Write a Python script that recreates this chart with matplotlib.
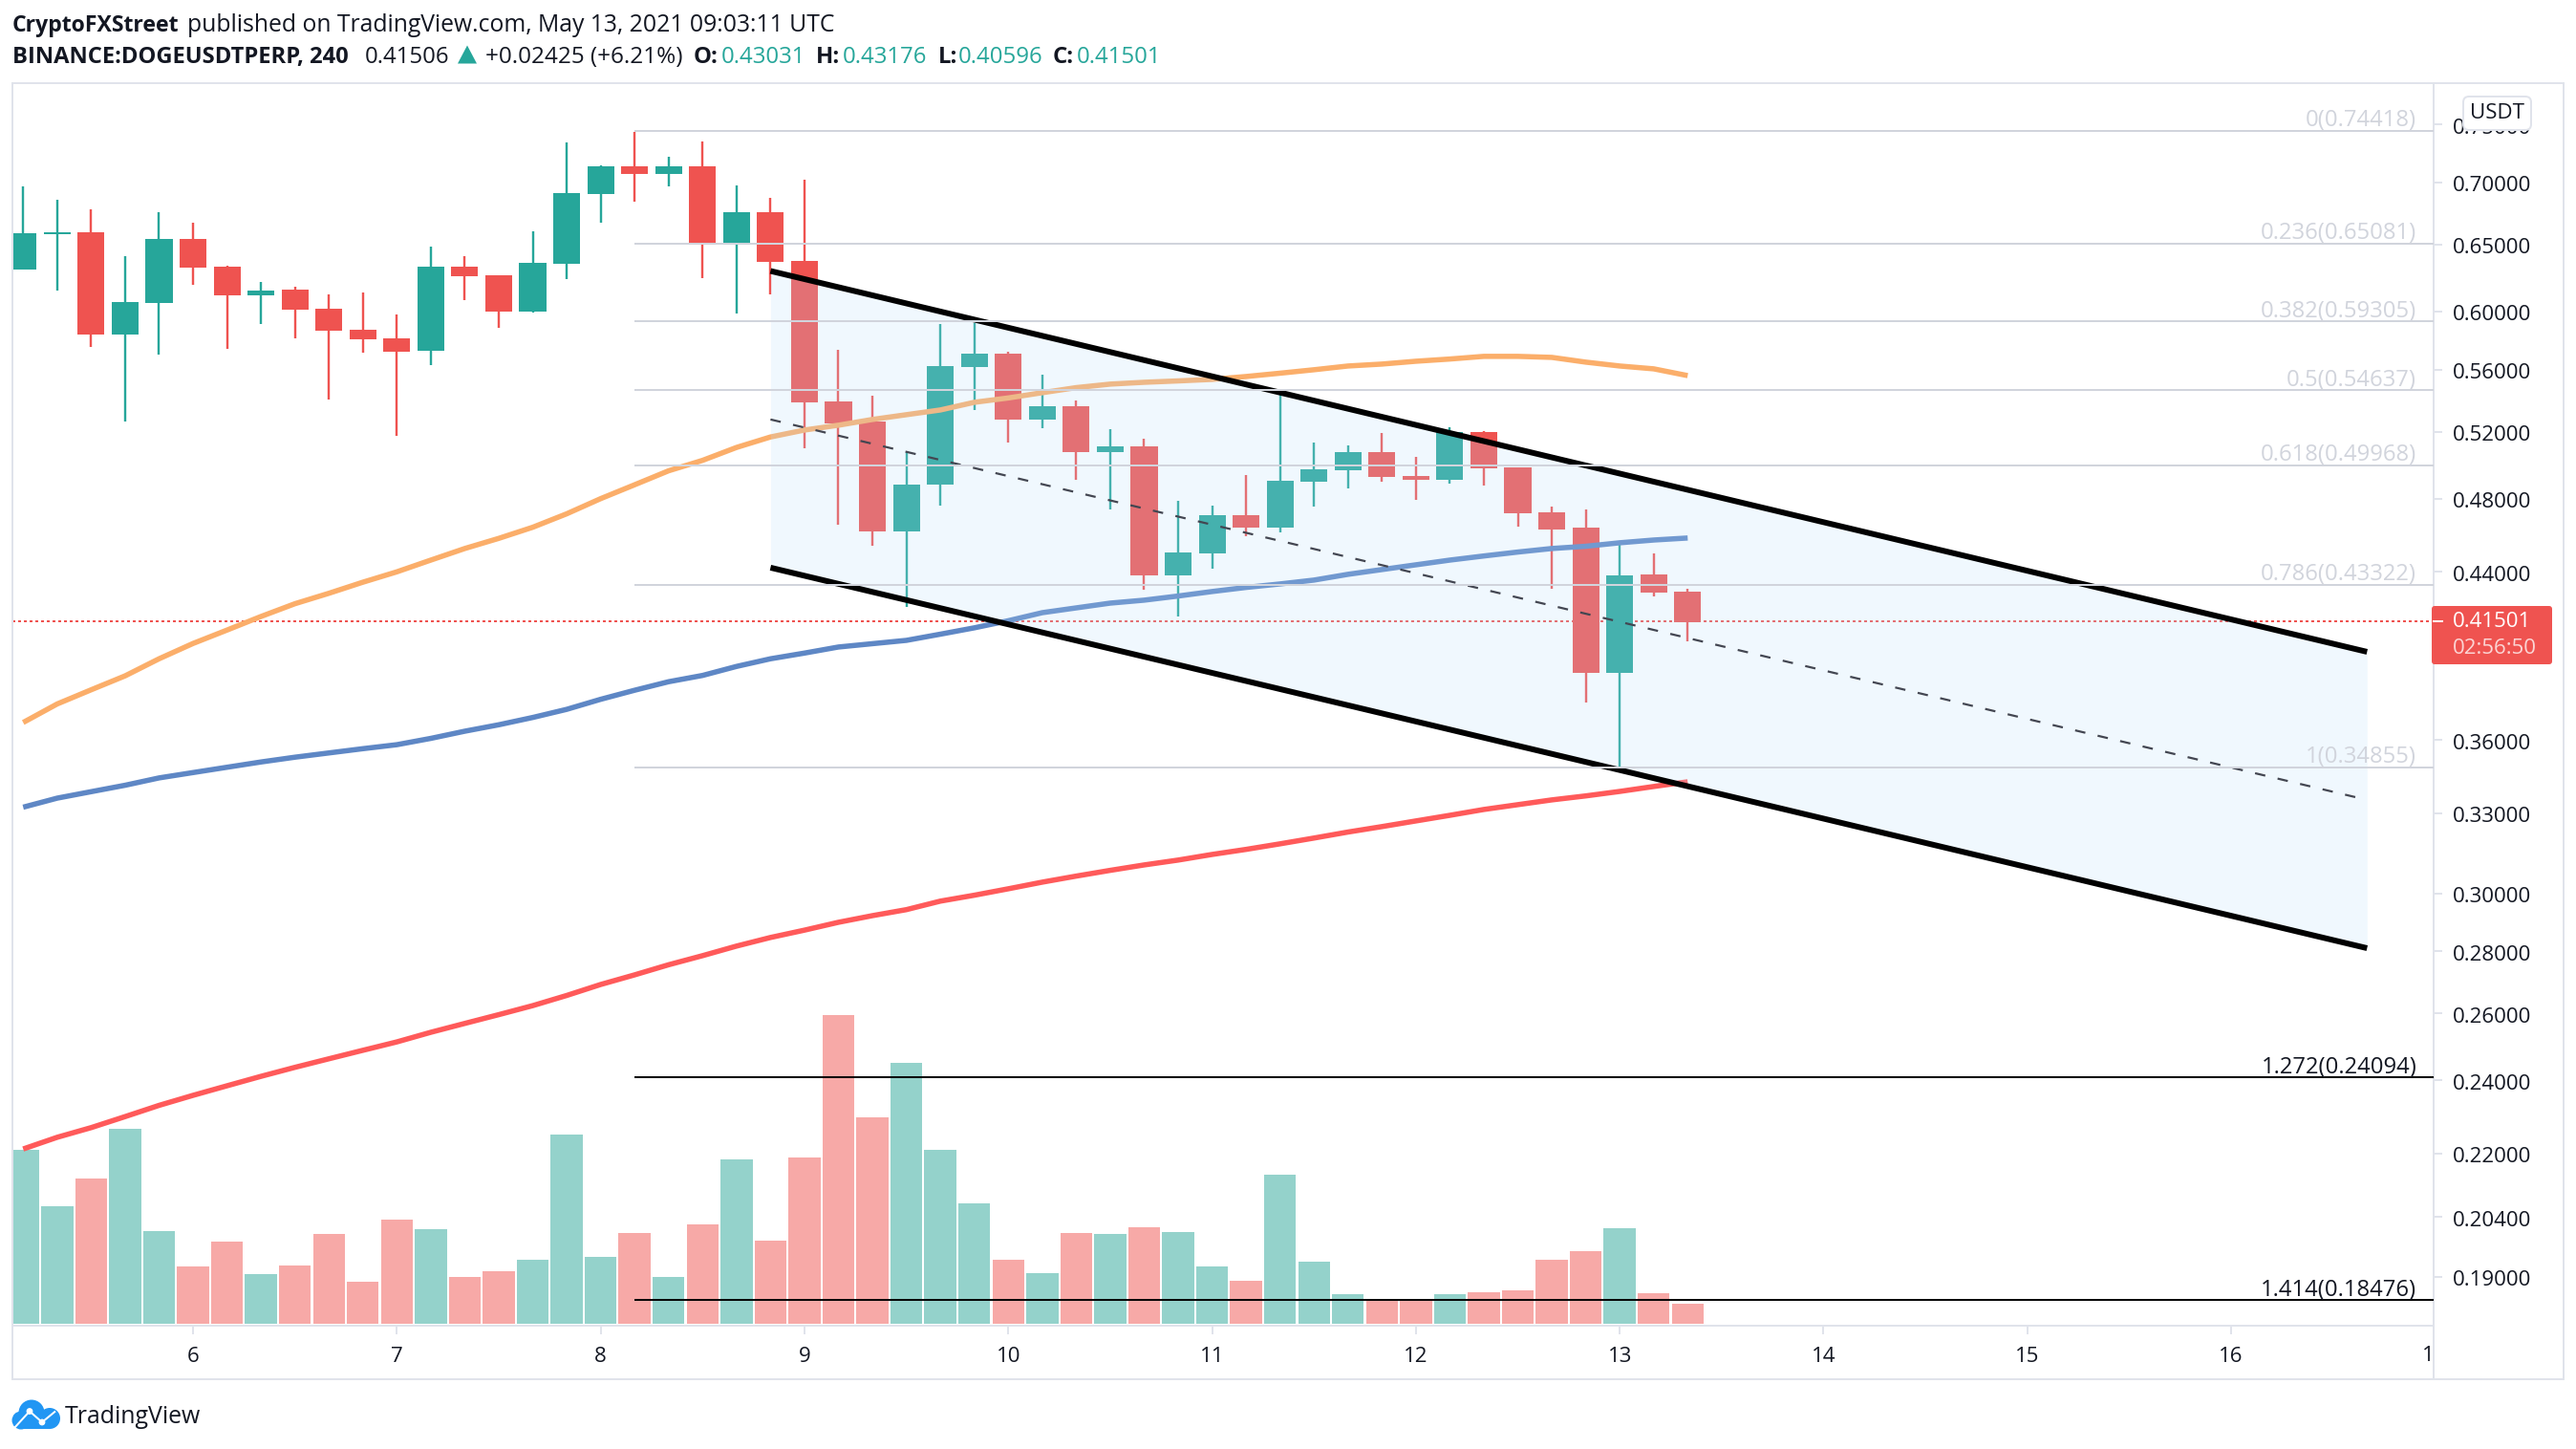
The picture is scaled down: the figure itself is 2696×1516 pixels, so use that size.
import numpy as np
import matplotlib
matplotlib.use('Agg')
import matplotlib.pyplot as plt
from matplotlib.patches import Rectangle, FancyBboxPatch, Circle, Polygon
from matplotlib.ticker import NullFormatter
from matplotlib.transforms import ScaledTranslation

plt.rcParams['font.family'] = ['Open Sans', 'DejaVu Sans']

# ---------- data (4h candles, bar index 0..49) ----------
direction = list("GGRGGRRGRRRRGRRGGGRGRGRRRRGGGRGRGRGGRGGGRRGRRRRGRR")
high = [.6966,.6856,.6778,.6410,.6755,.6671,.6337,.6216,.6181,.6125,.6139,.5980,.6483,.6410,.6266,.6603,.7340,.7143,.7433,.7216,.7349,.6974,.6871,.7022,.5733,
        .5428,.5075,.5912,.5919,.5720,.5566,.5397,.5216,.5157,.4789,.4762,.4938,.5472,.5133,.5116,.5192,.5046,.5228,.5204,.4984,.4756,.4740,.4544,.4498,.4312]
body_top = [.6588,.6595,.6595,.6069,.6543,.6543,.6330,.6153,.6160,.6021,.5872,.5812,.6330,.6330,.6266,.6359,.6910,.7134,.7134,.7134,.7134,.6755,.6755,.6374,.5391,
            .5264,.4883,.5623,.5707,.5707,.5360,.5360,.5110,.5110,.4503,.4708,.4708,.4905,.4972,.5075,.5075,.4933,.5198,.5198,.4984,.4724,.4639,.4382,.4387,.4298]
body_bottom = [.6309,.6580,.5839,.5839,.6062,.6323,.6118,.6118,.6014,.5865,.5805,.5720,.5727,.6259,.6000,.6000,.6352,.6903,.7070,.7070,.6513,.6513,.6366,.5385,.5252,
               .4617,.4617,.4883,.5617,.5276,.5276,.5075,.5075,.4382,.4382,.4498,.4639,.4639,.4899,.4967,.4927,.4910,.4910,.4978,.4719,.4628,.3901,.3901,.4293,.4144]
low = [.6309,.6153,.5753,.5264,.5701,.6195,.5740,.5912,.5812,.5403,.5714,.5175,.5630,.6083,.5885,.5993,.6237,.6671,.6840,.6966,.6244,.5987,.6125,.5098,.4654,
       .4539,.4220,.4762,.5336,.5133,.5222,.4910,.4740,.4308,.4172,.4417,.4591,.4612,.4756,.4860,.4899,.4794,.4888,.4877,.4644,.4312,.3766,.3485,.4273,.4051]
ma_orange = [.3677,.3759,.3823,.3887,.3967,.4040,.4105,.4172,.4236,.4289,.4346,.4400,.4462,.4524,.4579,.4640,.4715,.4801,.4881,.4963,.5025,.5103,.5167,.5210,.5240,
             .5276,.5306,.5336,.5385,.5413,.5447,.5480,.5503,.5515,.5524,.5534,.5553,.5575,.5598,.5623,.5636,.5655,.5670,.5688,.5688,.5681,.5649,.5623,.5604,.5559]
ma_blue = [.3324,.3360,.3386,.3412,.3442,.3464,.3486,.3508,.3528,.3546,.3564,.3581,.3608,.3639,.3667,.3699,.3735,.3780,.3821,.3860,.3889,.3931,.3967,.3994,.4023,
           .4039,.4055,.4085,.4116,.4151,.4191,.4215,.4239,.4254,.4275,.4298,.4319,.4337,.4357,.4387,.4412,.4437,.4462,.4484,.4505,.4524,.4536,.4555,.4570,.4581]
ma_red = [.2212,.2243,.2269,.2299,.2330,.2358,.2385,.2412,.2438,.2463,.2488,.2513,.2542,.2569,.2596,.2624,.2656,.2691,.2722,.2755,.2785,.2817,.2846,.2871,.2898,
          .2921,.2942,.2972,.2993,.3016,.3040,.3062,.3083,.3103,.3121,.3142,.3161,.3182,.3204,.3227,.3248,.3270,.3292,.3315,.3334,.3353,.3369,.3387,.3407,.3426]
volume = [182,123,152,204,97,60,86,52,61,94,44,109,99,49,55,67,198,70,95,49,104,172,87,174,323,
          216,273,182,126,67,53,95,94,101,96,60,45,156,65,31,25,25,31,33,35,67,76,100,32,21]

fib_ratio = ['0','0.236','0.382','0.5','0.618','0.786','1','1.272','1.414']
fib_price = [0.74418,0.65081,0.59305,0.54637,0.49968,0.43322,0.34855,0.24094,0.18476]
fib_dark = [False]*7 + [True]*2
fib_start = 18

channel_x = [22, 69]
channel_upper = [0.6297, 0.4000]
channel_mid = [0.5276, 0.3353]
channel_lower = [0.4422, 0.2810]

last_price = 0.41501
price_ticks = [.75,.70,.65,.60,.56,.52,.48,.44,.36,.33,.30,.28,.26,.24,.22,.204,.19]
day_ticks = [5,11,17,23,29,35,41,47,53,59,65]
day_labels = ['6','7','8','9','10','11','12','13','14','15','16']

UP, DOWN = '#26a69a', '#ef5350'
UPV, DOWNV = '#94d2cb', '#f7a9a7'
GRID = '#e0e3eb'
INK = '#131722'
W, H = 2696, 1516
PX = 0.72
XLIM = (-0.328, 70.96)

fig = plt.figure(figsize=(W/100, H/100), dpi=100)
L, R, T, B = 12.6, 2547.0, 87.0, 1387.0
pos = [L/W, 1-B/H, (R-L)/W, (B-T)/H]

x = np.arange(len(high))
col = [UP if d == 'G' else DOWN for d in direction]
colv = [UPV if d == 'G' else DOWNV for d in direction]

# volume pane (behind)
axv = fig.add_axes(pos, zorder=1)
axv.bar(x, volume, width=0.94, color=colv, linewidth=0)
axv.set_xlim(*XLIM)
axv.set_ylim(-2, 1298)
axv.axis('off')

# price pane
ax = fig.add_axes(pos, zorder=2)
ax.patch.set_alpha(0)
ax.set_yscale('log')
ax.set_xlim(*XLIM)
ax.set_ylim(0.17920, 0.78766)

ax.axhline(last_price, color=DOWN, lw=2*PX, ls=(0, (1.5, 1.5)), zorder=1)
ax.vlines(x, low, high, colors=col, lw=2.4*PX, zorder=2)
ax.bar(x, np.array(body_top)-np.array(body_bottom), bottom=body_bottom, width=0.79, color=col, linewidth=0, zorder=3)
for s, c, in ((ma_orange, '#fbae6a'), (ma_blue, '#5e87c5'), (ma_red, '#ff5a5a')):
    ax.plot(x, s, color=c, lw=5.5*PX, solid_capstyle='butt', solid_joinstyle='round', zorder=4)

ax.fill_between(channel_x, channel_lower, channel_upper, color='#bbdefb', alpha=0.21, linewidth=0, zorder=5)
ax.plot(channel_x, channel_upper, color='black', lw=6*PX, solid_capstyle='butt', zorder=6)
ax.plot(channel_x, channel_lower, color='black', lw=6*PX, solid_capstyle='butt', zorder=6)
ax.plot(channel_x, channel_mid, color='#434651', lw=2.2*PX, ls=(0, (5, 6)), zorder=6)

for r, p, dark in zip(fib_ratio, fib_price, fib_dark):
    c = 'black' if dark else '#d1d4dc'
    ax.plot([fib_start, 71], [p, p], color=c, lw=2*PX, solid_capstyle='butt', zorder=7)
    ax.annotate(f'{r}({p:.5f})', xy=(70.46, p), xytext=(0, 3.2), textcoords='offset points',
                ha='right', va='baseline', fontsize=17.1, color=INK if dark else '#d1d4dc', zorder=8,
                annotation_clip=False)

for s in ax.spines.values():
    s.set_color(GRID)
    s.set_linewidth(2*PX)
ax.yaxis.tick_right()
ax.set_yticks(price_ticks + [last_price])
ax.set_yticklabels([f'{t:.5f}' for t in price_ticks] + [''])
ax.yaxis.set_minor_formatter(NullFormatter())
ax.tick_params(axis='y', which='minor', length=0)
ax.tick_params(axis='y', which='major', length=6.5, width=2*PX, color=GRID, labelcolor=INK, labelsize=16, pad=7.5)
for lab in ax.get_yticklabels():
    lab.set_transform(lab.get_transform() + ScaledTranslation(0, -1.5/100, fig.dpi_scale_trans))
ax.set_xticks(day_ticks)
ax.set_xticklabels(day_labels)
ax.tick_params(axis='x', length=6.5, width=2*PX, color=GRID, labelcolor=INK, labelsize=16, pad=9.5)

# overlay in image pixels
ov = fig.add_axes([0, 0, 1, 1], zorder=5)
ov.set_xlim(0, W)
ov.set_ylim(H, 0)
ov.axis('off')
ov.patch.set_alpha(0)

ov.add_patch(Rectangle((L, T), 2683-L, 1443-T, fill=False, ec=GRID, lw=2*PX))
ov.plot([R, R], [1387, 1443], color=GRID, lw=2*PX)
ov.text(2541, 1418, '1', ha='center', va='center', fontsize=16, color=INK)

# last price tag
ov.add_patch(FancyBboxPatch((2546, 635), 124, 59, boxstyle='round,pad=1,rounding_size=3', fc=DOWN, ec='none'))
ov.plot([2547, 2556], [650, 650], color='white', lw=2*PX)
ov.text(2567, 651, '0.41501', va='center', ha='left', fontsize=16, color='white')
ov.text(2567, 678, '02:56:50', va='center', ha='left', fontsize=16, color='#fbd5d4')

# unit badge
ov.add_patch(FancyBboxPatch((2580, 103), 67, 31, boxstyle='round,pad=2,rounding_size=6', fc='white', ec=GRID, lw=2*PX))
ov.text(2613.5, 118, 'USDT', ha='center', va='center', fontsize=16, color=INK)

# header
FS = 17.3
ov.text(12.6, 32.7, 'CryptoFXStreet', fontsize=16.6, fontweight='bold', color=INK, va='baseline')
ov.text(196, 32.7, 'published on TradingView.com, May 13, 2021 09:03:11 UTC', fontsize=17.85, color=INK, va='baseline')
ov.text(12.6, 65.7, 'BINANCE:DOGEUSDTPERP, 240', fontsize=17.1, fontweight='bold', color=INK, va='baseline')
ov.text(382, 65.7, '0.41506', fontsize=FS, color=INK, va='baseline')
ov.add_patch(Polygon([(479, 66.5), (499, 66.5), (489, 47.5)], fc=UP, ec='none'))
ov.text(508, 65.7, '+0.02425 (+6.21%)', fontsize=17.5, color=INK, va='baseline')
for lab, lx, val, vx in (('O:', 726, '0.43031', 755), ('H:', 854, '0.43176', 882),
                         ('L:', 982, '0.40596', 1003), ('C:', 1102, '0.41501', 1127)):
    ov.text(lx, 65.7, lab, fontsize=FS, fontweight='bold', color=INK, va='baseline')
    ov.text(vx, 65.7, val, fontsize=FS, color=UP, va='baseline')

# TradingView logo
BLUE = '#2196f3'
for cx, cy, r in ((33, 1478, 13.5), (52, 1484, 11), (22, 1486, 9.5)):
    ov.add_patch(Circle((cx, cy), r, fc=BLUE, ec='none'))
ov.add_patch(Rectangle((22, 1484), 30, 11, fc=BLUE, ec='none'))
ov.plot([15, 31, 44, 58], [1494, 1476.5, 1488, 1476.5], color='white', lw=2*PX, solid_capstyle='butt')
for cx, cy in ((31, 1476.5), (44, 1488)):
    ov.add_patch(Circle((cx, cy), 3.4, fc='white', ec='none'))
ov.text(68, 1489, 'TradingView', fontsize=17.9, color=INK, va='baseline')

fig.savefig('out.png', dpi=100, facecolor='white')
